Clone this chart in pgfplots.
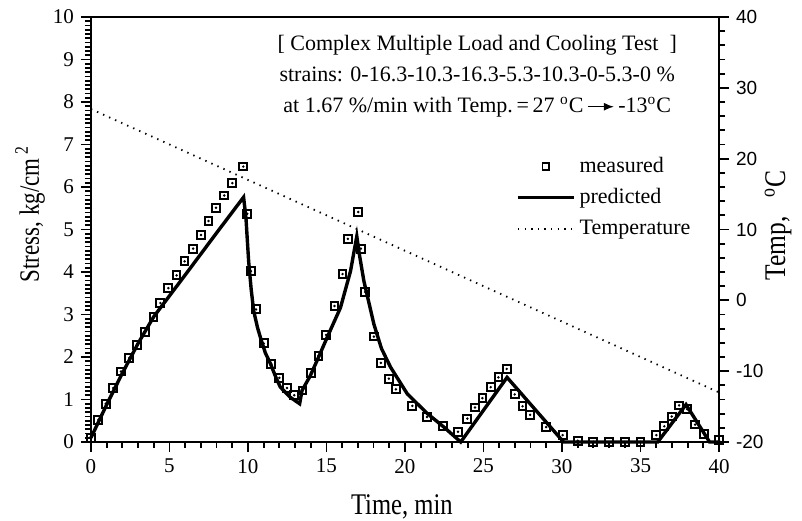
\documentclass[border=0pt]{standalone}
\usepackage{pgfplots}
\pgfplotsset{compat=1.18}
\usepackage{pgfplotstable}
\usepackage{graphicx}
\usepackage{fontspec}
\setmainfont{Liberation Serif}
\newfontfamily\arialf{Liberation Sans}
\usetikzlibrary{arrows.meta}

\pgfplotstableread{
t v
0.00 0.10
0.47 0.52
0.94 0.90
1.42 1.27
1.91 1.66
2.44 1.98
2.95 2.29
3.45 2.59
3.98 2.95
4.42 3.27
4.93 3.62
5.45 3.92
5.96 4.25
6.51 4.55
7.00 4.87
7.49 5.20
7.96 5.51
8.49 5.80
9.00 6.09
9.70 6.48
9.96 5.37
10.19 4.02
10.51 3.12
11.00 2.32
11.49 1.83
12.00 1.51
12.49 1.27
12.94 1.10
13.47 1.21
14.02 1.63
14.49 2.03
14.98 2.52
15.51 3.20
16.02 3.95
16.36 4.78
17.02 5.41
17.19 4.55
17.47 3.53
18.02 2.48
18.46 1.86
18.97 1.49
19.42 1.24
20.47 0.85
21.40 0.59
22.40 0.38
23.38 0.24
23.97 0.55
24.46 0.81
24.93 1.03
25.46 1.29
25.95 1.52
26.48 1.72
26.99 1.12
27.49 0.84
27.97 0.64
28.99 0.35
30.04 0.16
31.00 0.03
32.00 0.00
33.00 0.00
34.00 0.00
35.00 0.00
36.01 0.16
36.52 0.37
36.99 0.60
37.46 0.86
37.97 0.77
38.48 0.41
39.07 0.18
40.00 0.04
}\measured

\pgfplotstableread{
t v
0.00 0.10
1.00 0.88
2.00 1.62
3.00 2.32
4.00 2.95
6.00 3.93
8.00 4.92
9.72 5.76
9.87 5.27
10.04 4.26
10.20 3.60
10.36 3.09
10.60 2.70
10.79 2.46
11.10 2.10
11.42 1.85
11.80 1.50
12.06 1.29
12.70 1.05
13.29 0.90
13.44 1.21
13.97 1.56
14.50 2.00
15.04 2.46
15.89 3.16
16.53 4.02
16.93 4.84
17.10 4.40
17.38 3.79
18.02 2.77
18.50 2.20
19.08 1.76
20.15 1.13
21.42 0.67
22.48 0.35
23.55 0.00
26.50 1.52
30.10 0.00
36.10 0.00
37.90 0.88
39.40 0.00
40.00 0.00
}\predicted

\pgfplotstableread{
t T
0 27
40 -13
}\temperature

\begin{document}
\begin{tikzpicture}
\pgfplotsset{
  common/.style={
    width=314pt, height=212.5pt, scale only axis,
    xmin=0, xmax=40,
    axis line style={line width=1.1pt,-},
    tick align=outside,
    major tick length=5pt, minor tick length=3pt,
    tick style={line width=0.9pt,black},
    /pgf/number format/assume math mode=true,
  },
}
\begin{axis}[common,
  ymin=0, ymax=10, clip=false,
  xtick={0,5,...,40}, ytick={0,1,...,10},
  minor x tick num=4, minor y tick num=9,
  xtick pos=bottom, ytick pos=left,
  ticklabel style={font=\fontsize{10.5}{12}\selectfont},
  xlabel={\scalebox{0.82}[1]{\fontsize{15}{18}\selectfont Time, min}},
  xlabel style={at={(axis description cs:0.495,-0.152)},anchor=center},
  ylabel={\scalebox{0.82}[1]{\fontsize{14}{16}\selectfont Stress, kg/cm\,\raisebox{0.85ex}{\fontsize{9.5}{10}\selectfont 2}}},
  ylabel style={at={(axis description cs:-0.097,0.535)},anchor=center},
  legend style={at={(axis cs:27.07,6.8)}, anchor=north west, draw=none, fill=none,
    font=\fontsize{11}{13}\selectfont, inner sep=0pt, row sep=2.5pt,
    /tikz/every even column/.append style={column sep=3pt}},
  legend cell align=left,
]
\addplot[only marks, mark=square, mark size=1.95pt, line width=1pt, forget plot] table[x=t,y=v]{\measured};
\addplot[only marks, mark=*, mark size=0.4pt, forget plot] table[x=t,y=v]{\measured};
\addplot[line width=1.7pt, no marks, forget plot] table[x=t,y=v]{\predicted};

\addlegendimage{legend image code/.code={\draw[line width=0.9pt, mark size=1.7pt] plot[mark=square] coordinates {(14pt,0pt)};}}
\addlegendentry{measured}
\addlegendimage{legend image code/.code={\draw[line width=1.6pt] (0pt,0pt)--(28pt,0pt);}}
\addlegendentry{predicted}
\addlegendimage{legend image code/.code={\draw[line width=0.9pt, dash pattern=on 0.7pt off 2.6pt] (0pt,0pt)--(28pt,0pt);}}
\addlegendentry{Temperature}

\node[align=center, font=\fontsize{11}{15.5}\selectfont, anchor=center] at (axis cs:24.6,8.6)
 {[ Complex Multiple Load and Cooling Test~~]\\
  strains: 0-16.3-10.3-16.3-5.3-10.3-0-5.3-0 \%\\
  at 1.67 \%/min with Temp.\,=\,27 \textsuperscript{o}C\,\tikz[baseline=-0.6ex]\draw[-{Latex[length=5pt,width=4pt]},line width=0.7pt](0,0)--(13pt,0);\,-13\textsuperscript{o}C};
\end{axis}

\begin{axis}[common,
  ymin=-20, ymax=40,
  axis x line=none, axis y line*=right,
  ytick={-20,-10,...,40}, minor y tick num=4, ytick pos=right,
  yticklabel style={font=\arialf\fontsize{9.5}{11}\selectfont},
  ylabel={\scalebox{0.85}[1]{\fontsize{15}{16}\selectfont Temp,~~~\textsuperscript{o}C}},
  ylabel style={at={(axis description cs:1.094,0.51)},anchor=center},
]
\addplot[line width=0.9pt, dash pattern=on 0.7pt off 2.6pt, no marks] table[x=t,y=T]{\temperature};
\end{axis}

\pgfresetboundingbox
\path[use as bounding box] ([xshift=-45.5pt,yshift=-39.5pt]current axis.south west) rectangle ([xshift=41.5pt,yshift=8.5pt]current axis.north east);
\end{tikzpicture}
\end{document}
